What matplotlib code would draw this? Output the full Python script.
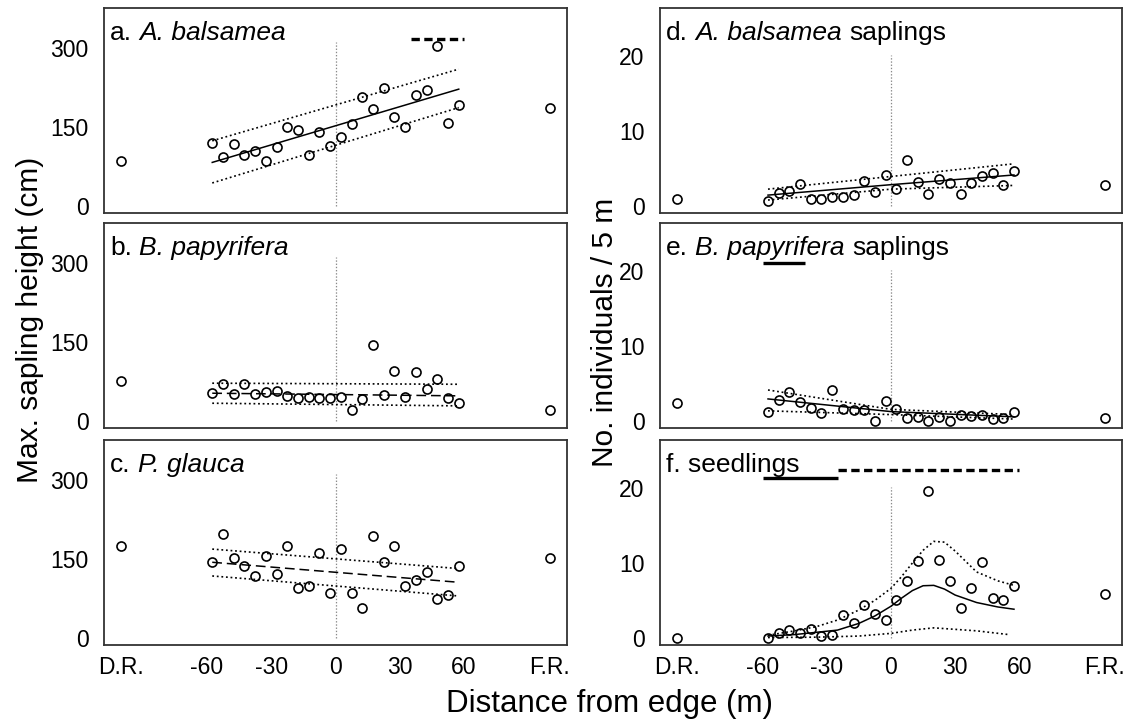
import matplotlib
matplotlib.use('Agg')
import matplotlib.pyplot as plt

plt.rcParams['font.family'] = ['Liberation Sans', 'DejaVu Sans']
plt.rcParams['lines.scale_dashes'] = False

# ---------------- data ----------------
dist = [-57.5, -52.5, -47.5, -42.5, -37.5, -32.5, -27.5, -22.5, -17.5, -12.5, -7.5, -2.5,
        2.5, 7.5, 12.5, 17.5, 22.5, 27.5, 32.5, 37.5, 42.5, 47.5, 52.5, 57.5]
ref_x = [-100, 100]          # D.R. and F.R. reference stands
xtick_pos = [-100, -60, -30, 0, 30, 60, 100]
xtick_lab = ['D.R.', '-60', '-30', '0', '30', '60', 'F.R.']

# heights (cm)
h_abal = [118, 93, 117, 96, 104, 85, 112, 149, 143, 97, 140, 114,
          130, 155, 207, 184, 224, 168, 149, 210, 219, 303, 156, 191]
h_abal_ref = [85, 186]
h_bpap = [52, 70, 50, 69, 50, 55, 57, 47, 42, 45, 43, 42,
          45, 20, 41, 143, 49, 94, 45, 92, 60, 79, 42, 34]
h_bpap_ref = [76, 20]
h_pgla = [143, 197, 152, 136, 117, 155, 121, 174, 94, 98, 161, 85,
          169, 85, 56, 193, 144, 174, 98, 109, 124, 73, 81, 136]
h_pgla_ref = [174, 152]

# densities (no. / 5 m)
n_abal = [0.65, 1.7, 2.0, 2.9, 0.9, 0.9, 1.1, 1.1, 1.4, 3.3, 1.8, 4.1,
          2.2, 6.1, 3.2, 1.5, 3.5, 3.0, 1.6, 3.0, 3.9, 4.4, 2.7, 4.7]
n_abal_ref = [0.9, 2.7]
n_bpap = [1.2, 2.7, 3.8, 2.5, 1.7, 1.0, 4.1, 1.6, 1.4, 1.4, 0.0, 2.6,
          1.5, 0.3, 0.5, 0.0, 0.5, 0.0, 0.7, 0.6, 0.7, 0.2, 0.3, 1.2]
n_bpap_ref = [2.3, 0.4]
n_seed = [0.0, 0.6, 1.0, 0.6, 1.1, 0.2, 0.4, 3.0, 2.0, 4.4, 3.2, 2.4,
          5.1, 7.6, 10.3, 19.7, 10.4, 7.6, 4.0, 6.7, 10.2, 5.3, 5.1, 6.9]
n_seed_ref = [0.0, 5.8]

# fitted models and confidence limits
lin_x = [-57.5, 57.5]
fit_abal = [82, 221]; lo_abal = [43, 186]; hi_abal = [123, 259]
fit_bpap = [52, 47]; lo_bpap = [33, 28]; hi_bpap = [71, 69]
fit_pgla = [143, 105]; lo_pgla = [117, 79]; hi_pgla = [168, 131]

glm_x = [-57.5, 0, 57.5]
fit_nabal = [1.4, 2.8, 4.1]; lo_nabal = [0.74, 2.2, 2.7]; hi_nabal = [2.2, 3.9, 5.6]
fit_nbpap = [2.9, 1.2, 0.5]; lo_nbpap = [1.3, 0.8, 0.2]; hi_nbpap = [4.1, 1.5, 0.8]

seed_x = [-57.5, -45, -35, -25, -15, -7.5, 0, 5, 10, 15, 20, 25, 30, 40, 50, 57.5]
fit_seed = [0.2, 0.4, 0.7, 1.0, 1.9, 2.9, 4.2, 5.3, 6.3, 6.95, 7.0, 6.5, 5.7, 4.7, 4.1, 3.8]
hi_seed = [0.3, 0.9, 1.45, 2.35, 3.7, 5.0, 6.6, 8.2, 10.0, 11.7, 12.9, 12.8, 11.6, 8.8, 7.6, 7.0]
lo_seed_x = [-57.5, -35, -15, 0, 10, 20, 30, 40, 55]
lo_seed = [0.0, 0.05, 0.2, 0.56, 1.0, 1.3, 1.1, 0.9, 0.4]

# significance bars: (x_start, x_end, y, style)
sig_a = [(35, 60, 317, 'dashed')]
sig_e = [(-60, -40, 21.2, 'solid')]
sig_f = [(-60, -25, 21.4, 'solid'), (-25, 60, 22.5, 'dashed')]

# panel titles: (text, italic?) pieces
title_a = [('a.', False), ('A. balsamea', True)]
title_b = [('b.', False), ('B. papyrifera', True)]
title_c = [('c.', False), ('P. glauca', True)]
title_d = [('d.', False), ('A. balsamea', True), ('saplings', False)]
title_e = [('e.', False), ('B. papyrifera', True), ('saplings', False)]
title_f = [('f. seedlings', False)]

# ---------------- figure ----------------
W, H = 1134, 719
fig = plt.figure(figsize=(W / 100, H / 100), dpi=100)

def add_ax(x0, top, w=463, h=205):
    return fig.add_axes([x0 / W, 1 - (top + h) / H, w / W, h / H])

DOT = (0, (1.3, 2.0))
DASH = (0, (7, 3.5))
TFS = 19
SPACE = 0.278 * TFS

def draw_title(ax, pieces):
    prev = None
    for txt, ital in pieces:
        style = 'italic' if ital else 'normal'
        if prev is None:
            prev = ax.text(0.013, 0.845, txt, transform=ax.transAxes, fontsize=TFS,
                           fontstyle=style, ha='left', va='baseline')
        else:
            prev = ax.annotate(txt, xy=(1, 0.845), xycoords=(prev, 'axes fraction'),
                               xytext=(SPACE, 0), textcoords='offset points',
                               fontsize=TFS, fontstyle=style, ha='left', va='baseline')

def panel(ax, yvals, refvals, ylim, yticks, vtop, title, bottom):
    ax.set_xlim(-108, 108)
    ax.set_ylim(*ylim)
    ax.set_yticks(yticks)
    ax.set_yticklabels([str(t) for t in yticks])
    ax.set_xticks(xtick_pos)
    if bottom:
        ax.set_xticklabels(xtick_lab)
    else:
        ax.set_xticklabels([])
    ax.tick_params(length=0, labelsize=16.5, pad=8)
    ax.tick_params(axis='y', pad=11)
    for s in ax.spines.values():
        s.set_linewidth(1.3)
        s.set_color('#333333')
    ax.plot([0, 0], [0, vtop], color='#8a8a8a', lw=0.9, linestyle=(0, (1, 1.3)), zorder=1)
    ax.plot(dist, yvals, 'o', ms=6.5, mfc='none', mec='black', mew=1.2, zorder=3)
    ax.plot(ref_x, refvals, 'o', ms=6.5, mfc='none', mec='black', mew=1.2, zorder=3)
    draw_title(ax, title)

def sigbars(ax, bars):
    for x0, x1, y, st in bars:
        ls = '-' if st == 'solid' else (0, (6, 3.2))
        ax.plot([x0, x1], [y, y], color='black', lw=2.4, linestyle=ls,
                solid_capstyle='butt', dash_capstyle='butt')

LX, RX = 104, 660
tops = [8, 223, 440]
LY = (-14, 375)
RY = (-1.0, 26.5)

ax_a = add_ax(LX, tops[0])
panel(ax_a, h_abal, h_abal_ref, LY, [0, 150, 300], 310, title_a, False)
ax_a.plot(lin_x, fit_abal, color='black', lw=1.1)
ax_a.plot(lin_x, lo_abal, color='black', lw=1.2, linestyle=DOT)
ax_a.plot(lin_x, hi_abal, color='black', lw=1.2, linestyle=DOT)
sigbars(ax_a, sig_a)

ax_b = add_ax(LX, tops[1])
panel(ax_b, h_bpap, h_bpap_ref, LY, [0, 150, 300], 310, title_b, False)
ax_b.plot(lin_x, fit_bpap, color='black', lw=1.1, linestyle=DASH)
ax_b.plot(lin_x, lo_bpap, color='black', lw=1.2, linestyle=DOT)
ax_b.plot(lin_x, hi_bpap, color='black', lw=1.2, linestyle=DOT)

ax_c = add_ax(LX, tops[2])
panel(ax_c, h_pgla, h_pgla_ref, LY, [0, 150, 300], 310, title_c, True)
ax_c.plot(lin_x, fit_pgla, color='black', lw=1.1, linestyle=DASH)
ax_c.plot(lin_x, lo_pgla, color='black', lw=1.2, linestyle=DOT)
ax_c.plot(lin_x, hi_pgla, color='black', lw=1.2, linestyle=DOT)

ax_d = add_ax(RX, tops[0], w=462)
panel(ax_d, n_abal, n_abal_ref, RY, [0, 10, 20], 20.2, title_d, False)
ax_d.plot(glm_x, fit_nabal, color='black', lw=1.1)
ax_d.plot(glm_x, lo_nabal, color='black', lw=1.2, linestyle=DOT)
ax_d.plot(glm_x, hi_nabal, color='black', lw=1.2, linestyle=DOT)

ax_e = add_ax(RX, tops[1], w=462)
panel(ax_e, n_bpap, n_bpap_ref, RY, [0, 10, 20], 20.2, title_e, False)
ax_e.plot(glm_x, fit_nbpap, color='black', lw=1.1)
ax_e.plot(glm_x, lo_nbpap, color='black', lw=1.2, linestyle=DOT)
ax_e.plot(glm_x, hi_nbpap, color='black', lw=1.2, linestyle=DOT)
sigbars(ax_e, sig_e)

ax_f = add_ax(RX, tops[2], w=462)
panel(ax_f, n_seed, n_seed_ref, RY, [0, 10, 20], 20.2, title_f, True)
ax_f.plot(seed_x, fit_seed, color='black', lw=1.1)
ax_f.plot(seed_x, hi_seed, color='black', lw=1.2, linestyle=DOT)
ax_f.plot(lo_seed_x, lo_seed, color='black', lw=1.2, linestyle=DOT)
sigbars(ax_f, sig_f)

fig.text(30 / W, 1 - 320 / H, 'Max. sapling height (cm)', rotation=90,
         ha='center', va='center', fontsize=21.5)
fig.text(605 / W, 1 - 332 / H, 'No. individuals / 5 m', rotation=90,
         ha='center', va='center', fontsize=21.5)
fig.text(609 / W, 1 - 712 / H, 'Distance from edge (m)', ha='center',
         va='baseline', fontsize=22.5)

fig.savefig('out.png', dpi=100)
